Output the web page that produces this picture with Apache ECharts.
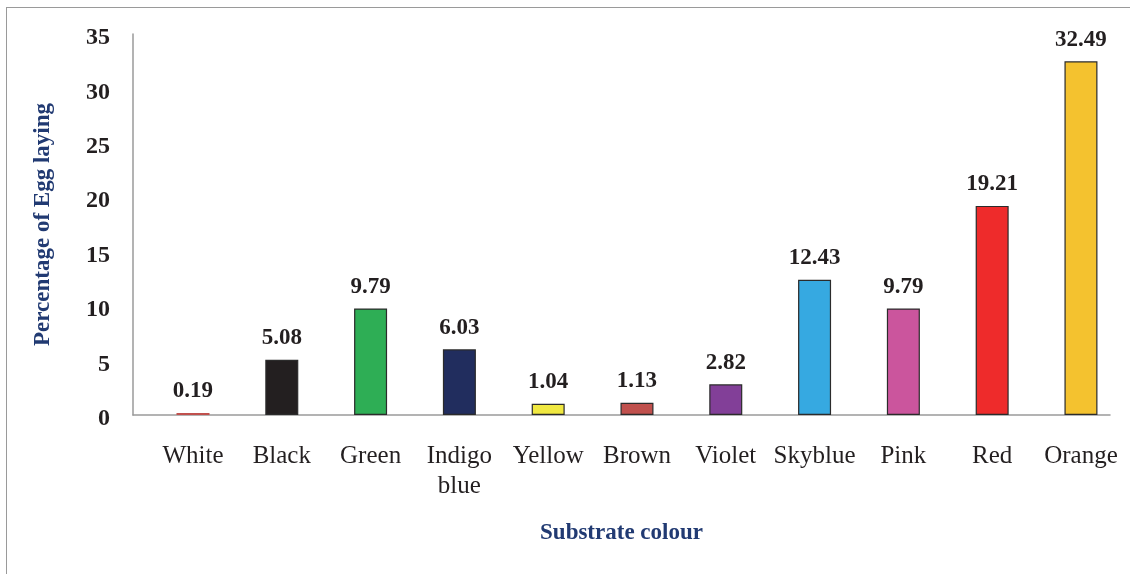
<!DOCTYPE html>
<html>
<head>
<meta charset="utf-8">
<script src="https://cdn.jsdelivr.net/npm/echarts@6/dist/echarts.min.js"></script>
<style>
html,body{margin:0;padding:0;background:#fff;overflow:hidden;}
#frame{position:absolute;left:6px;top:7px;width:1300px;height:800px;border:1.5px solid #9a9a9a;box-sizing:border-box;}
#chart{position:absolute;left:0;top:0;width:1130px;height:574px;}
</style>
</head>
<body>
<div id="frame"></div>
<div id="chart"></div>
<script>
const categories = ['White','Black','Green','Indigo\nblue','Yellow','Brown','Violet','Skyblue','Pink','Red','Orange'];
const values = [0.19, 5.08, 9.79, 6.03, 1.04, 1.13, 2.82, 12.43, 9.79, 19.21, 32.49];
const barColors = ['#C0504D','#231F20','#2EAE55','#212D5E','#F0E841','#C0504D','#823F98','#36A9E1','#CB559D','#EE2B2B','#F4C22F'];
const yTicks = [0, 5, 10, 15, 20, 25, 30, 35];

const chart = echarts.init(document.getElementById('chart'), null, {renderer:'canvas'});
const serif = '"Liberation Serif", "Times New Roman", serif';
chart.setOption({
  animation: false,
  backgroundColor: 'transparent',
  grid: {left: 133, right: 20, top: 34, bottom: 159},
  xAxis: {
    type: 'value',
    min: -0.6757,
    max: 10.327,
    splitLine: {show: false},
    axisTick: {show: false},
    axisLine: {show: true, onZero: false, lineStyle: {color: '#9a9a9a', width: 1.5}},
    axisLabel: {
      customValues: categories.map((c, i) => i),
      formatter: v => categories[Math.round(v)] || '',
      fontFamily: serif, fontSize: 25, color: '#231F20', margin: 26, lineHeight: 30
    },
    name: 'Substrate colour',
    nameLocation: 'middle',
    nameGap: 107,
    nameTextStyle: {fontFamily: serif, fontWeight: 'bold', fontSize: 23, color: '#213A72'}
  },
  yAxis: {
    type: 'value',
    min: 0, max: 35, interval: 5,
    splitLine: {show: false},
    axisTick: {show: false},
    axisLine: {show: true, onZero: false, lineStyle: {color: '#9a9a9a', width: 1.5}},
    axisLabel: {
      formatter: v => yTicks.includes(v) ? String(v) : '',
      fontFamily: serif, fontWeight: 'bold', fontSize: 24, color: '#231F20', margin: 23,
      verticalAlign: 'top', lineHeight: 8
    },
    name: 'Percentage of Egg laying',
    nameLocation: 'middle',
    nameGap: 78,
    nameTextStyle: {fontFamily: serif, fontWeight: 'bold', fontSize: 23, color: '#213A72'}
  },
  series: [{
    type: 'bar',
    barWidth: 33,
    data: values.map((v, i) => ({
      value: [i, v],
      itemStyle: {color: barColors[i], borderColor: i === 0 ? barColors[i] : '#2b2b2b', borderWidth: 1.2}
    })),
    label: {
      show: true, position: 'top', distance: 10,
      formatter: p => p.value[1].toFixed(2),
      fontFamily: serif, fontWeight: 'bold', fontSize: 23, color: '#231F20'
    }
  }]
});
</script>
</body>
</html>
